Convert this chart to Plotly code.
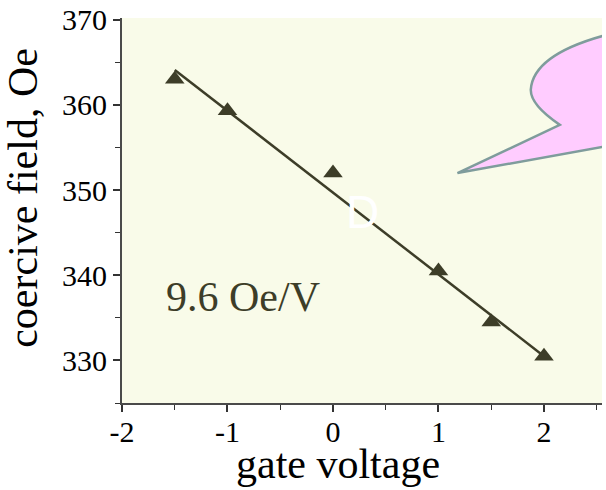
import plotly.graph_objects as go

gate_voltage = [-1.5, -1.0, 0.0, 1.0, 1.5, 2.0]
coercive_field = [363.0, 359.3, 352.0, 340.5, 334.5, 330.5]
fit_x = [-1.5, 2.0]
fit_y = [364.1, 330.5]
x_ticks = [-2, -1, 0, 1, 2]
y_ticks = [330, 340, 350, 360, 370]
slope_label = "9.6 Oe/V"
x_title = "gate voltage"
y_title = "coercive field, Oe"

serif = "Liberation Serif, Times New Roman, serif"
olive = "#3d3d28"

fig = go.Figure()
fig.add_trace(go.Scatter(x=fit_x, y=fit_y, mode="lines",
                         line=dict(color=olive, width=2.5), showlegend=False))
fig.add_trace(go.Scatter(x=gate_voltage, y=coercive_field, mode="markers",
                         marker=dict(symbol="triangle-up", size=17, color=olive),
                         showlegend=False))

# speech-bubble callout (pink), clipped at right edge
fig.add_shape(type="path", xref="x", yref="y", layer="below",
              path="M 1.18 352.0 L 2.15 357.65 Q 1.87 360.0 1.875 361.8 "
                   "Q 1.9 366.0 2.62 368.3 L 2.62 355.2 Z",
              fillcolor="#FFCCFF", line=dict(color="#7f9c9c", width=2.5))

fig.add_annotation(x=-1.6, y=337.4, xref="x", yref="y", text=slope_label,
                   showarrow=False, xanchor="left", yanchor="middle",
                   font=dict(family=serif, size=42, color=olive))
fig.add_annotation(x=0.28, y=347.4, xref="x", yref="y", text="D",
                   showarrow=False, xanchor="center", yanchor="middle",
                   font=dict(family="Liberation Sans, Arial, sans-serif", size=46, color="white"))

# axis titles as annotations for exact placement
fig.add_annotation(x=0.05, y=-0.158, xref="x", yref="paper", text=x_title,
                   showarrow=False, xanchor="center", yanchor="middle",
                   font=dict(family=serif, size=42, color="black"))
fig.add_annotation(x=-0.205, y=0.532, xref="paper", yref="paper", text=y_title,
                   textangle=-90, showarrow=False, xanchor="center", yanchor="middle",
                   font=dict(family=serif, size=42, color="black"))

axis_common = dict(showline=True, linecolor="#4a4a4a", linewidth=2, ticks="outside",
                   ticklen=7, tickwidth=1.5, tickcolor="#333", showgrid=False, zeroline=False,
                   mirror=False, tickfont=dict(family=serif, size=30, color="black"))

fig.update_xaxes(range=[-2, 2.55], tickvals=x_ticks, ticktext=[str(v) for v in x_ticks],
                 ticklabelstandoff=-6,
                 minor=dict(ticks="outside", ticklen=5, dtick=0.5, tickcolor="#333", tickwidth=1.2),
                 **axis_common)
fig.update_yaxes(range=[325, 370.2], tickvals=y_ticks, ticktext=[str(v) for v in y_ticks],
                 minor=dict(ticks="outside", ticklen=5, dtick=5, tickcolor="#333", tickwidth=1.2),
                 **axis_common)

fig.update_layout(width=606, height=490, margin=dict(l=122, r=4, t=18, b=87),
                  paper_bgcolor="white", plot_bgcolor="#F9FBE9")

fig.write_html("out.html")
